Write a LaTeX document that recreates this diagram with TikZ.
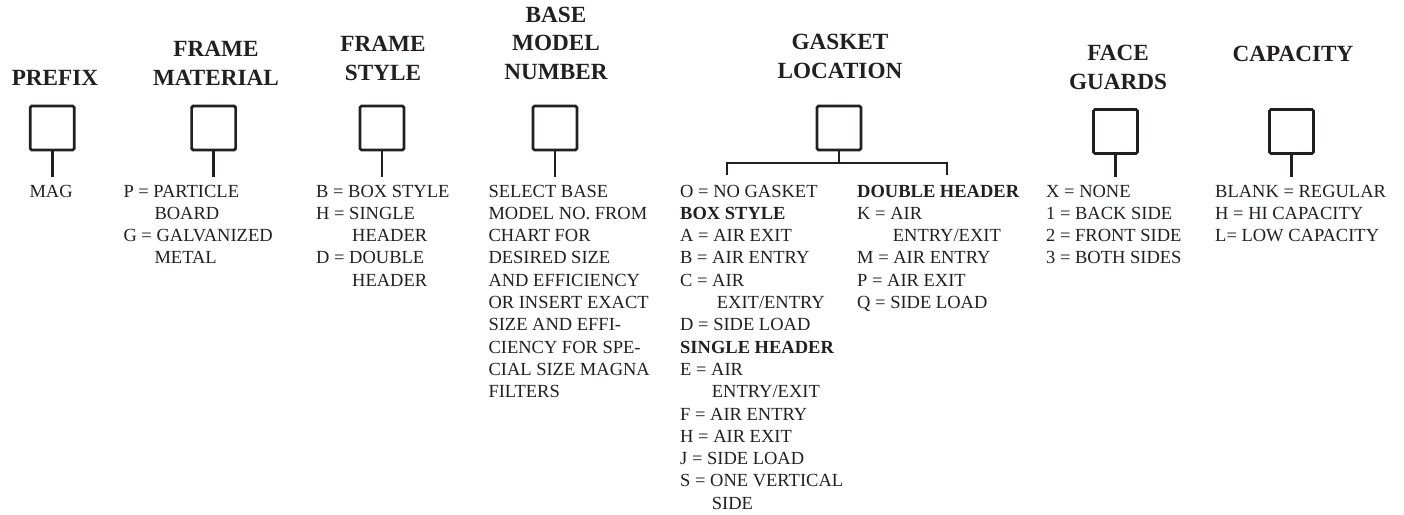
\documentclass[tikz,border=0pt]{standalone}
\usepackage{fontspec}
\setmainfont{Liberation Serif}
\definecolor{ink}{RGB}{35,31,32}
\newcommand{\indt}[1]{\hspace*{#1}}
\newcommand{\ttltab}[1]{\begin{tabular}[b]{@{}c@{}}#1\end{tabular}}
\newcommand{\bodytab}[1]{\begin{tabular}[t]{@{}l@{}}#1\end{tabular}}
\begin{document}
\begin{tikzpicture}[x=1pt,y=-1pt,
  fbox/.style={draw=ink,line width=2.7pt,rounded corners=1.5pt,minimum width=44pt,minimum height=44pt,inner sep=0pt,outer sep=0pt},
  stem/.style={draw=ink,line width=2.7pt},
  ttl/.style={anchor=base,inner sep=0pt,text=ink,font=\fontsize{23.2}{28.5}\selectfont\bfseries},
  body/.style={anchor=base west,inner sep=0pt,text=ink,font=\fontsize{18.5}{22.3}\selectfont}]
\useasboundingbox[fill=white] (0,0) rectangle (1404,514);

% titles
\node[ttl] (t1) at (55,85) {\ttltab{PREFIX}};
\node[ttl] (t2) at (216,85) {\ttltab{FRAME\\MATERIAL}};
\node[ttl] (t3) at (383,80) {\ttltab{FRAME\\STYLE}};
\node[ttl] (t4) at (556,79) {\ttltab{BASE\\MODEL\\NUMBER}};
\node[ttl] (t5) at (840,78) {\ttltab{GASKET\\LOCATION}};
\node[ttl] (t6) at (1118,89) {\ttltab{FACE\\GUARDS}};
\node[ttl] (t7) at (1293,61) {\ttltab{CAPACITY}};

% boxes
\node[fbox] (b1) at (52.3,128) {};
\node[fbox] (b2) at (213.6,128) {};
\node[fbox] (b3) at (382,128) {};
\node[fbox] (b4) at (555,128) {};
\node[fbox] (b5) at (839,128) {};
\node[fbox] (b6) at (1115.5,131.5) {};
\node[fbox] (b7) at (1291.5,131.5) {};

% stem ends
\coordinate (s1) at (52.3,177);
\coordinate (s2) at (213.6,177);
\coordinate (s3) at (382,177);
\coordinate (s4) at (555,177);
\coordinate (s6) at (1115.5,177);
\coordinate (s7) at (1291.5,177);
\coordinate (gj) at (839,163);
\coordinate (gl) at (727,175);
\coordinate (gr) at (947,175);

\draw[stem] (b1.south) -- (s1);
\draw[stem] (b2.south) -- (s2);
\draw[stem] (b3.south) -- (s3);
\draw[stem] (b4.south) -- (s4);
\draw[stem] (b6.south) -- (s6);
\draw[stem] (b7.south) -- (s7);
\draw[stem] (b5.south) -- (gj);
\draw[stem] (gl) |- (gj) -| (gr);

% option lists
\node[body] (c1) at (29.3,197) {\bodytab{MAG}};
\node[body] (c2) at (123.3,197) {\bodytab{P = PARTICLE\\\indt{31pt}BOARD\\G = GALVANIZED\\\indt{31pt}METAL}};
\node[body] (c3) at (316,197) {\bodytab{B = BOX STYLE\\H = SINGLE\\\indt{36pt}HEADER\\D = DOUBLE\\\indt{36pt}HEADER}};
\node[body] (c4) at (488.3,197) {\bodytab{SELECT BASE\\MODEL NO. FROM\\CHART FOR\\DESIRED SIZE\\AND EFFICIENCY\\OR INSERT EXACT\\SIZE AND EFFI-\\CIENCY FOR SPE-\\CIAL SIZE MAGNA\\FILTERS}};
\node[body] (c5) at (680,197) {\bodytab{O = NO GASKET\\\textbf{BOX STYLE}\\A = AIR EXIT\\B = AIR ENTRY\\C = AIR\\\indt{36.7pt}EXIT/ENTRY\\D = SIDE LOAD\\\textbf{SINGLE HEADER}\\E = AIR\\\indt{31.7pt}ENTRY/EXIT\\F = AIR ENTRY\\H = AIR EXIT\\J = SIDE LOAD\\S = ONE VERTICAL\\\indt{31.7pt}SIDE}};
\node[body] (c5b) at (857,197) {\bodytab{\textbf{DOUBLE HEADER}\\K = AIR\\\indt{35.7pt}ENTRY/EXIT\\M = AIR ENTRY\\P = AIR EXIT\\Q = SIDE LOAD}};
\node[body] (c6) at (1046,197) {\bodytab{X = NONE\\1 = BACK SIDE\\2 = FRONT SIDE\\3 = BOTH SIDES}};
\node[body] (c7) at (1215,197) {\bodytab{BLANK = REGULAR\\H = HI CAPACITY\\L= LOW CAPACITY}};
\end{tikzpicture}
\end{document}
